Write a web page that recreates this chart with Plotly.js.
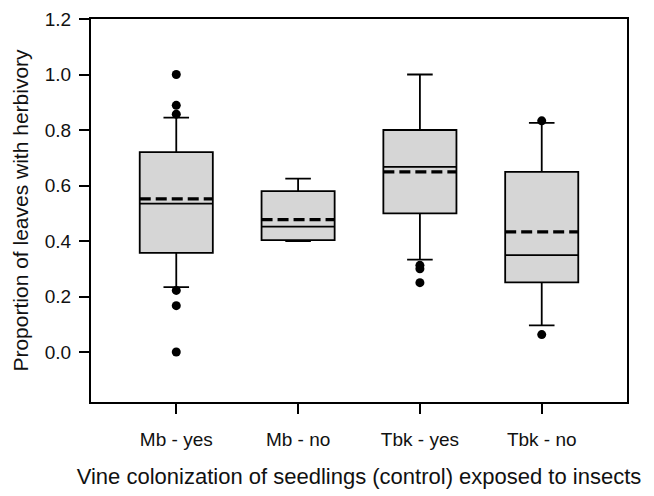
<!DOCTYPE html>
<html>
<head>
<meta charset="utf-8">
<script src="https://cdn.plot.ly/plotly-3.0.1.min.js"></script>
<style>
  html, body { margin: 0; padding: 0; background: #fff; }
  #chart { width: 654px; height: 496px; }
</style>
</head>
<body>
<div id="chart"></div>
<script>
// ---- data ----
var categories = ["Mb - yes", "Mb - no", "Tbk - yes", "Tbk - no"];
var lowerWhisker = [0.234, 0.400, 0.333, 0.096];
var q1Values     = [0.357, 0.403, 0.500, 0.251];
var medianValues = [0.535, 0.452, 0.667, 0.349];
var q3Values     = [0.720, 0.580, 0.800, 0.649];
var upperWhisker = [0.845, 0.625, 1.000, 0.826];
var meanValues   = [0.552, 0.477, 0.649, 0.433];
var outlierGroup = [0, 0, 0, 0, 0, 0, 2, 2, 2, 3, 3];
var outlierValues = [1.0, 0.889, 0.857, 0.222, 0.167, 0.0, 0.3125, 0.300, 0.250, 0.833, 0.063];
var yTicks = [0.0, 0.2, 0.4, 0.6, 0.8, 1.0, 1.2];

// ---- styling constants ----
var boxWidth = 0.6;
var positions = categories.map(function (c, i) { return i; });
var fontFamily = 'Liberation Sans, Arial, sans-serif';

var boxTrace = {
  type: 'box',
  x: positions,
  q1: q1Values,
  median: medianValues,
  q3: q3Values,
  lowerfence: lowerWhisker,
  upperfence: upperWhisker,
  width: boxWidth,
  whiskerwidth: 0.35,
  fillcolor: 'rgb(214,214,214)',
  line: { color: '#000', width: 1.8 },
  boxpoints: false,
  hoverinfo: 'skip',
  showlegend: false
};

var meanX = [], meanY = [];
meanValues.forEach(function (m, i) {
  meanX.push(i - boxWidth / 2, i + boxWidth / 2, null);
  meanY.push(m, m, null);
});
var meanTrace = {
  type: 'scatter', mode: 'lines',
  x: meanX, y: meanY,
  line: { color: '#000', width: 3.4, dash: '11px,5px' },
  hoverinfo: 'skip', showlegend: false
};

var outlierTrace = {
  type: 'scatter', mode: 'markers',
  x: outlierGroup, y: outlierValues,
  marker: { color: '#000', size: 9 },
  hoverinfo: 'skip', showlegend: false
};

var axisCommon = {
  showline: true, linecolor: '#000', linewidth: 2, mirror: true,
  ticks: 'outside', ticklen: 10, tickwidth: 2, tickcolor: '#000',
  showgrid: false, zeroline: false,
  tickfont: { family: fontFamily, size: 19, color: '#111' }
};

var layout = {
  width: 654, height: 496,
  margin: { l: 91, r: 27, t: 19, b: 94 },
  paper_bgcolor: '#fff', plot_bgcolor: '#fff',
  xaxis: Object.assign({}, axisCommon, {
    range: [-0.7, 3.7],
    tickvals: positions,
    ticktext: categories,
    ticklabelstandoff: 9,
    title: { text: 'Vine colonization of seedlings (control) exposed to insects',
             font: { family: fontFamily, size: 22, color: '#111' },
             standoff: 20 }
  }),
  yaxis: Object.assign({}, axisCommon, {
    range: [-0.18, 1.2],
    tickvals: yTicks,
    tickformat: '.1f',
    ticklabelstandoff: 4,
    title: { text: 'Proportion of leaves with herbivory',
             font: { family: fontFamily, size: 21, color: '#111' },
             standoff: 10 }
  })
};

Plotly.newPlot('chart', [boxTrace, meanTrace, outlierTrace], layout, { displayModeBar: false, staticPlot: true });
</script>
</body>
</html>
